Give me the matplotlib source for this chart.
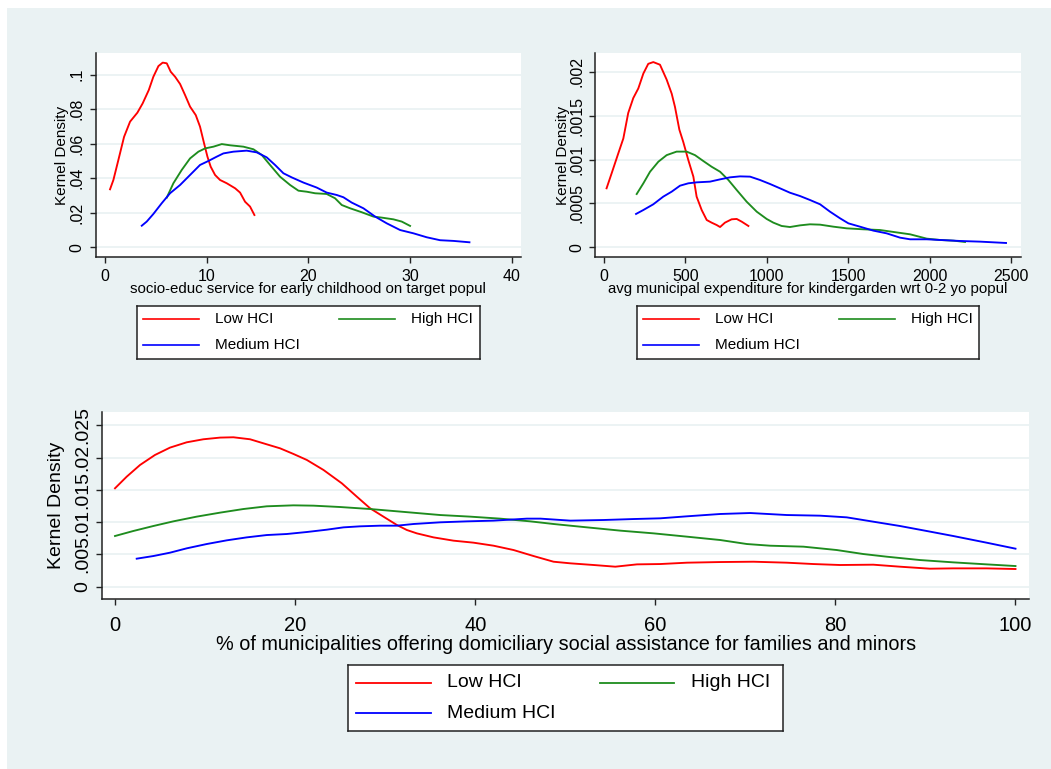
import matplotlib
matplotlib.use('Agg')
import matplotlib.pyplot as plt
from matplotlib.patches import Rectangle
from matplotlib.lines import Line2D

plt.rcParams['font.family'] = ['Liberation Sans', 'DejaVu Sans']

# ---------------- data ----------------
series_names = ['Low HCI', 'High HCI', 'Medium HCI']
series_colors = ['#ff0000', '#1e8c1e', '#0000ff']

# Panel 1: socio-educ service for early childhood on target popul
p1_low_x = [0.49, 0.82, 1.31, 1.87, 2.46, 3.18, 3.70, 4.30, 4.75, 5.25, 5.67, 6.07, 6.46, 6.89, 7.38,
            7.87, 8.36, 8.92, 9.34, 9.74, 10.07, 10.39, 10.82, 11.31, 11.97, 12.79, 13.28, 13.77,
            14.26, 14.69]
p1_low_y = [0.0336, 0.039, 0.0506, 0.064, 0.0728, 0.078, 0.0834, 0.0911, 0.0988, 0.105, 0.107,
            0.1066, 0.1017, 0.0988, 0.0946, 0.0882, 0.0815, 0.0766, 0.0699, 0.0602, 0.0525, 0.0467,
            0.0419, 0.039, 0.0371, 0.0342, 0.0317, 0.0264, 0.0236, 0.0187]
p1_high_x = [6.07, 6.72, 7.54, 8.36, 9.18, 9.84, 10.66, 11.48, 12.30, 13.61, 14.59, 15.41, 16.23,
             17.21, 18.20, 19.02, 19.84, 20.66, 21.80, 22.62, 23.28, 24.10, 25.25, 26.39, 27.21,
             28.36, 29.18, 30.0]
p1_high_y = [0.0288, 0.0371, 0.0448, 0.0515, 0.0554, 0.0573, 0.0583, 0.0598, 0.0591, 0.0583, 0.0568,
             0.0535, 0.0477, 0.0409, 0.0361, 0.0328, 0.0322, 0.0313, 0.0309, 0.0284, 0.0245, 0.0226,
             0.0203, 0.0178, 0.0172, 0.0162, 0.0149, 0.0124]
p1_med_x = [3.61, 4.10, 4.75, 5.57, 6.39, 7.38, 8.36, 9.34, 10.16, 10.98, 11.64, 12.62, 13.93, 14.92,
            15.90, 16.72, 17.54, 18.36, 19.51, 20.82, 21.80, 22.79, 23.44, 24.26, 25.41, 26.56,
            27.70, 29.02, 30.33, 31.64, 32.95, 34.26, 35.84]
p1_med_y = [0.0125, 0.0149, 0.0193, 0.0255, 0.0313, 0.0361, 0.0419, 0.0477, 0.05, 0.0525, 0.0544,
            0.0554, 0.056, 0.055, 0.0521, 0.0477, 0.0429, 0.0405, 0.0375, 0.0346, 0.0317, 0.0303,
            0.029, 0.0259, 0.0226, 0.0178, 0.0139, 0.01, 0.0081, 0.0058, 0.0041, 0.0037, 0.0029]

# Panel 2: avg municipal expenditure for kindergarden wrt 0-2 yo popul
p2_low_x = [16, 47, 88, 119, 149, 180, 211, 242, 272, 303, 344, 385, 416, 436, 463, 487, 518, 549,
            569, 600, 631, 661, 692, 713, 743, 784, 815, 846, 887]
p2_low_y = [0.000672, 0.000842, 0.00107, 0.00124, 0.00153, 0.0017, 0.00181, 0.00198, 0.00209,
            0.00211, 0.00208, 0.00191, 0.00175, 0.0016, 0.00134, 0.0012, 0.000994, 0.000805,
            0.000577, 0.000425, 0.000311, 0.000281, 0.000254, 0.000231, 0.000281, 0.000319,
            0.000323, 0.000292, 0.000243]
p2_high_x = [201, 242, 283, 334, 385, 446, 508, 559, 610, 661, 713, 764, 815, 876, 938, 999, 1040,
             1091, 1142, 1204, 1265, 1327, 1409, 1491, 1593, 1695, 1777, 1880, 1982, 2064, 2146, 2217]
p2_high_y = [0.000607, 0.000729, 0.000861, 0.000975, 0.00105, 0.00109, 0.00109, 0.00105, 0.000983,
             0.000918, 0.000861, 0.000767, 0.000653, 0.00052, 0.000406, 0.000323, 0.000281,
             0.000243, 0.000231, 0.00025, 0.000262, 0.000258, 0.000235, 0.000216, 0.000205,
             0.000197, 0.000175, 0.000148, 0.0000987, 0.0000835, 0.0000759, 0.0000607]
p2_med_x = [197, 242, 303, 364, 416, 467, 518, 569, 651, 713, 774, 835, 897, 958, 1020, 1081, 1142,
            1204, 1265, 1327, 1388, 1450, 1501, 1572, 1654, 1736, 1818, 1880, 1982, 2064, 2187,
            2310, 2469]
p2_med_y = [0.00038, 0.000425, 0.00049, 0.000577, 0.000634, 0.000702, 0.000729, 0.00074, 0.000748,
            0.000774, 0.000797, 0.000808, 0.000805, 0.000767, 0.000721, 0.000672, 0.000622,
            0.000584, 0.000539, 0.00049, 0.000406, 0.00033, 0.000273, 0.000235, 0.00019, 0.000159,
            0.00011, 0.0000911, 0.0000911, 0.0000835, 0.0000721, 0.0000645, 0.0000493]

# Panel 3: % of municipalities offering domiciliary social assistance
p3_low_x = [0, 1.3, 2.78, 4.44, 6.11, 7.96, 9.81, 11.67, 13.15, 15, 16.85, 18.33, 19.81, 21.3,
            23.15, 25.19, 26.85, 28.33, 29.81, 31.3, 32.41, 33.52, 35.37, 37.59, 39.81, 42.04,
            44.26, 46.48, 48.7, 50.57, 53.16, 55.56, 57.97, 60.55, 63.51, 67.21, 70.91, 74.6,
            77.56, 80.52, 84.21, 87.17, 90.5, 93.09, 96.78, 100]
p3_low_y = [0.01524, 0.01704, 0.01885, 0.0204, 0.02154, 0.02236, 0.02283, 0.02309, 0.02314,
            0.02283, 0.02205, 0.02143, 0.02056, 0.01963, 0.01808, 0.01601, 0.01395, 0.01214,
            0.01085, 0.00956, 0.00878, 0.00826, 0.00764, 0.00713, 0.00682, 0.00635, 0.00568,
            0.00475, 0.00387, 0.00362, 0.00336, 0.0031, 0.00346, 0.00351, 0.00372, 0.00382,
            0.00387, 0.00372, 0.00351, 0.00336, 0.00341, 0.0031, 0.00279, 0.00284, 0.00284, 0.00274]
p3_high_x = [0, 2.04, 4.26, 6.48, 9.07, 11.67, 14.26, 16.85, 19.81, 22.04, 25, 28.33, 30.93,
             33.52, 36.11, 39.44, 42.78, 46.11, 48.7, 52.42, 56.12, 59.82, 63.51, 67.21, 70.17,
             72.75, 76.45, 80.15, 83.1, 85.69, 89.39, 93.09, 96.78, 100]
p3_high_y = [0.00785, 0.00863, 0.0094, 0.01012, 0.01085, 0.01147, 0.01203, 0.01245, 0.0126,
             0.01255, 0.01234, 0.01203, 0.01172, 0.01141, 0.0111, 0.01085, 0.01054, 0.01012,
             0.00971, 0.00919, 0.00868, 0.00826, 0.00775, 0.00723, 0.00661, 0.00635, 0.0062,
             0.00568, 0.00506, 0.00465, 0.00413, 0.00377, 0.00346, 0.0032]
p3_med_x = [2.41, 4.26, 6.11, 7.96, 10.19, 12.41, 14.63, 16.85, 19.07, 21.3, 23.52, 25.37, 27.22,
            29.44, 31.3, 33.15, 36.11, 39.07, 42.04, 45.74, 47.25, 50.57, 54.27, 57.6, 60.55,
            63.51, 67.21, 70.54, 74.6, 78.3, 81.26, 84.21, 87.17, 90.13, 93.09, 96.78, 100]
p3_med_y = [0.00434, 0.00475, 0.00527, 0.00594, 0.00661, 0.00718, 0.00764, 0.008, 0.00816,
            0.00847, 0.00883, 0.00919, 0.00935, 0.00945, 0.00945, 0.00971, 0.00997, 0.01012,
            0.01023, 0.01054, 0.01054, 0.01023, 0.01033, 0.01048, 0.01059, 0.0109, 0.01126,
            0.01141, 0.0111, 0.011, 0.01074, 0.01007, 0.0094, 0.00863, 0.00785, 0.00682, 0.00589]

p1_xticks = [0, 10, 20, 30, 40]
p1_yticks = [0, 0.02, 0.04, 0.06, 0.08, 0.1]
p1_yticklabels = ['0', '.02', '.04', '.06', '.08', '.1']
p2_xticks = [0, 500, 1000, 1500, 2000, 2500]
p2_yticks = [0, 0.0005, 0.001, 0.0015, 0.002]
p2_yticklabels = ['0', '.0005', '.001', '.0015', '.002']
p3_xticks = [0, 20, 40, 60, 80, 100]
p3_yticks = [0, 0.005, 0.01, 0.015, 0.02, 0.025]
p3_yticklabels = ['0', '.005', '.01', '.015', '.02', '.025']

p1_xlabel = 'socio-educ service for early childhood on target popul'
p2_xlabel = 'avg municipal expenditure for kindergarden wrt 0-2 yo popul'
p3_xlabel = '% of municipalities offering domiciliary social assistance for families and minors'
ylabel = 'Kernel Density'

# ---------------- figure ----------------
W, H = 1051, 769
BG = '#eaf2f3'
fig = plt.figure(figsize=(W / 100, H / 100), dpi=100)
fig.patch.set_facecolor('white')
fig.patches.append(Rectangle((7 / W, 0), 1 - 7 / W, 1 - 8 / H, transform=fig.transFigure,
                             facecolor=BG, edgecolor='none', zorder=-10))


def px_rect(x0, y0, x1, y1):
    return [x0 / W, 1 - y1 / H, (x1 - x0) / W, (y1 - y0) / H]


def setup_axes(rect, xlim, ylim, xticks, yticks, yticklabels, xlabel, fs_tick, fs_ytick, fs_lab,
               ylab_x, xlab_y, xpad, ypad):
    ax = fig.add_axes(rect)
    ax.set_facecolor('white')
    for s in ['top', 'right']:
        ax.spines[s].set_visible(False)
    for s in ['left', 'bottom']:
        ax.spines[s].set_color('#222222')
        ax.spines[s].set_linewidth(1.1)
    ax.set_xlim(*xlim)
    ax.set_ylim(*ylim)
    ax.set_xticks(xticks)
    ax.set_xticklabels([str(t) for t in xticks], fontsize=fs_tick)
    ax.set_yticks(yticks)
    ax.set_yticklabels(yticklabels, fontsize=fs_ytick, rotation=90, va='center')
    ax.tick_params(axis='both', direction='out', length=4.3, width=1.0, color='#222222')
    ax.tick_params(axis='x', pad=xpad)
    ax.tick_params(axis='y', pad=ypad)
    ax.yaxis.grid(True, color=BG, linewidth=1.3)
    ax.set_axisbelow(True)
    ax.set_ylabel(ylabel, fontsize=fs_lab[1], va='center')
    ax.yaxis.set_label_coords(ylab_x, 0.5)
    ax.set_xlabel(xlabel, fontsize=fs_lab[0], va='center')
    ax.xaxis.set_label_coords(0.5, xlab_y)
    return ax


def draw_legend(box, fontsize, key_off, text_off, rows, lw):
    x0, y0, x1, y1 = box
    lax = fig.add_axes(px_rect(x0, y0, x1, y1))
    lax.set_xticks([])
    lax.set_yticks([])
    lax.set_facecolor('white')
    for s in lax.spines.values():
        s.set_color('#222222')
        s.set_linewidth(1.1)
    slots = [(0, 0), (1, 0), (0, 1)]  # Low: col0,row0; High: col1,row0; Medium: col0,row1
    for name, color, (c, r) in zip(series_names, series_colors, slots):
        ka, kb = key_off[c]
        fy = 1 - (y0 + rows[r]) / H
        fig.add_artist(Line2D([(x0 + ka) / W, (x0 + kb) / W], [fy, fy], color=color, lw=lw,
                              transform=fig.transFigure))
        fig.text((x0 + text_off[c]) / W, fy, name, fontsize=fontsize, va='center', ha='left')


lw = 1.35

# Panel 1
ax1 = setup_axes(px_rect(95.7, 53.3, 520.7, 256.7), (-0.92, 40.88), (-0.00545, 0.1124),
                 p1_xticks, p1_yticks, p1_yticklabels, p1_xlabel, 11.5, 11.5, (10.8, 11),
                 -0.080, -0.16, 4.5, 3.5)
ax1.plot(p1_low_x, p1_low_y, color=series_colors[0], lw=lw)
ax1.plot(p1_high_x, p1_high_y, color=series_colors[1], lw=lw)
ax1.plot(p1_med_x, p1_med_y, color=series_colors[2], lw=lw)

# Panel 2
ax2 = setup_axes(px_rect(595, 53.3, 1020.7, 256.7), (-55, 2559), (-0.000107, 0.00221),
                 p2_xticks, p2_yticks, p2_yticklabels, p2_xlabel, 11.5, 11.5, (10.8, 11),
                 -0.0763, -0.16, 4.5, 3.5)
ax2.plot(p2_low_x, p2_low_y, color=series_colors[0], lw=lw)
ax2.plot(p2_high_x, p2_high_y, color=series_colors[1], lw=lw)
ax2.plot(p2_med_x, p2_med_y, color=series_colors[2], lw=lw)

# Panel 3
ax3 = setup_axes(px_rect(102.3, 411.7, 1029, 599.3), (-1.41, 101.5), (-0.00195, 0.0271),
                 p3_xticks, p3_yticks, p3_yticklabels, p3_xlabel, 14.5, 14, (14.3, 14),
                 -0.0492, -0.24, 7.5, 3.5)
ax3.plot(p3_low_x, p3_low_y, color=series_colors[0], lw=lw)
ax3.plot(p3_high_x, p3_high_y, color=series_colors[1], lw=lw)
ax3.plot(p3_med_x, p3_med_y, color=series_colors[2], lw=lw)

# Legends
draw_legend((136.7, 306, 480, 359.3), 11, [(6.3, 62), (202.6, 258.3)], [78.3, 274], [13.3, 39], 1.2)
draw_legend((636.7, 306, 979.3, 359.3), 11, [(6.3, 62), (202.6, 258.3)], [78.3, 274], [13.3, 39], 1.2)
draw_legend((348.3, 665, 782.7, 731), 14, [(7.7, 82.7), (251.7, 326)], [98.4, 342.7], [17.7, 48.3], 1.3)

fig.savefig('out.png', dpi=100, facecolor=fig.get_facecolor())
